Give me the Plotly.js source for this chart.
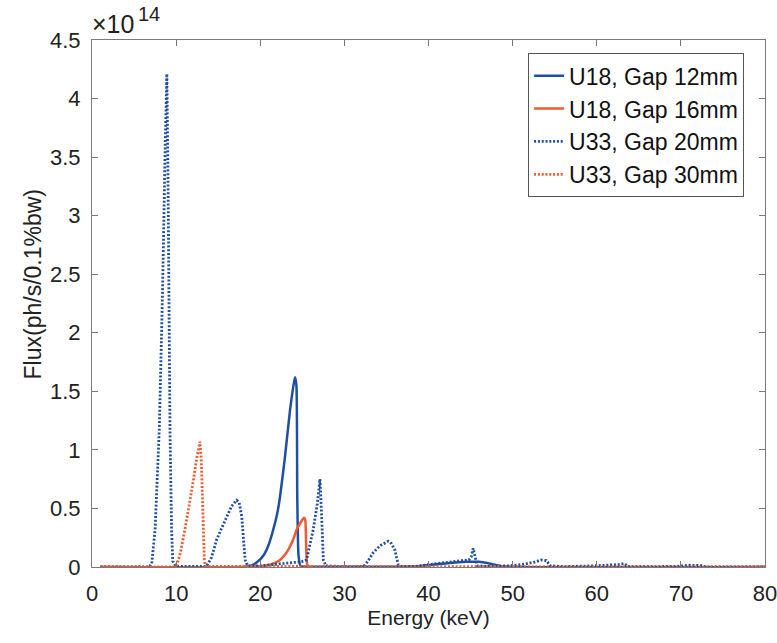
<!DOCTYPE html>
<html>
<head>
<meta charset="utf-8">
<script src="https://cdn.plot.ly/plotly-3.0.1.min.js"></script>
<style>html,body{margin:0;padding:0;background:#fff;}#chart{width:777px;height:643px;}</style>
</head>
<body>
<div id="chart"></div>
<script>
// Flux values are in units of 1e14 ph/s/0.1%bw
const seriesNames = ["U18, Gap 12mm", "U18, Gap 16mm", "U33, Gap 20mm", "U33, Gap 30mm"];

const energyU18g12 = [1, 17.5, 18.8, 19.6, 20.4, 21.0, 21.55, 22.0, 22.35, 22.94, 23.54, 23.9, 24.13, 24.3, 24.4, 24.55, 24.8, 27, 32, 38.5, 40.5, 42.5, 44.5, 46, 47, 48, 49, 80];
const fluxU18g12   = [0, 0, 0.01, 0.04, 0.1, 0.19, 0.32, 0.45, 0.6, 0.94, 1.34, 1.53, 1.62, 1.55, 0.6, 0.1, 0.01, 0.003, 0.002, 0.005, 0.02, 0.035, 0.044, 0.045, 0.035, 0.018, 0.004, 0];

const energyU18g16 = [1, 19, 20.5, 21.2, 22.35, 23.0, 23.5, 24.0, 24.33, 24.8, 25.2, 25.35, 25.5, 25.7, 80];
const fluxU18g16   = [0, 0, 0.01, 0.02, 0.06, 0.11, 0.17, 0.25, 0.32, 0.38, 0.42, 0.4, 0.1, 0.005, 0];

const energyU33g20 = [1, 6.8, 7.1, 7.5, 8.0, 8.4, 8.7, 8.9, 9.05, 9.27, 9.46, 9.6, 10, 12, 13.6, 14.2, 14.8, 15.4, 16.0, 16.6, 17.2, 17.5, 17.8, 18.0, 18.2, 18.5, 20, 22, 24, 24.9, 25.5, 26.3, 26.8, 27.1, 27.3, 27.5, 27.8, 30, 32.3, 32.8, 33.4, 34.2, 35.2, 35.6, 36.0, 36.4, 36.8, 38.5, 40, 42, 44, 44.8, 45.1, 45.3, 45.5, 45.8, 47, 49.5, 51, 52.5, 53.4, 54.0, 54.5, 56, 59.5, 61, 62.5, 63.3, 63.7, 64.2, 69.5, 71, 72.5, 73, 80];
const fluxU33g20   = [0, 0, 0.03, 0.32, 1.18, 2.4, 3.6, 4.21, 3.2, 1.18, 0.32, 0.05, 0.005, 0.003, 0.005, 0.08, 0.23, 0.33, 0.43, 0.52, 0.57, 0.55, 0.43, 0.25, 0.06, 0.01, 0.01, 0.025, 0.04, 0.045, 0.06, 0.32, 0.55, 0.75, 0.43, 0.06, 0.01, 0.003, 0.005, 0.05, 0.12, 0.18, 0.22, 0.2, 0.145, 0.02, 0.005, 0.005, 0.02, 0.04, 0.055, 0.06, 0.09, 0.16, 0.1, 0.01, 0.005, 0.01, 0.02, 0.04, 0.06, 0.055, 0.01, 0.003, 0.01, 0.015, 0.02, 0.03, 0.005, 0.002, 0.005, 0.015, 0.012, 0, 0];

const energyU33g30 = [1, 9.8, 10.1, 10.5, 11.05, 11.5, 12.05, 12.5, 12.84, 13.0, 13.15, 13.35, 13.5, 80];
const fluxU33g30   = [0, 0, 0.02, 0.12, 0.32, 0.5, 0.74, 0.95, 1.07, 0.9, 0.6, 0.06, 0.005, 0];

const xTicks = [0, 10, 20, 30, 40, 50, 60, 70, 80];
const yTicks = [0, 0.5, 1, 1.5, 2, 2.5, 3, 3.5, 4, 4.5];
const yTickText = ["0", "0.5", "1", "1.5", "2", "2.5", "3", "3.5", "4", "4.5"];

const BLUE = "#1f4fa3";
const RED = "#ee5b30";
const DOT = "2px,1.8px";

const traces = [
  {x: energyU18g12, y: fluxU18g12, name: seriesNames[0], mode: "lines", line: {color: BLUE, width: 2.5, shape: "spline", smoothing: 0.5}},
  {x: energyU18g16, y: fluxU18g16, name: seriesNames[1], mode: "lines", line: {color: RED, width: 2.5, shape: "spline", smoothing: 0.5}},
  {x: energyU33g20, y: fluxU33g20, name: seriesNames[2], mode: "lines", line: {color: BLUE, width: 2.8, dash: DOT}},
  {x: energyU33g30, y: fluxU33g30, name: seriesNames[3], mode: "lines", line: {color: RED, width: 2.8, dash: DOT}}
];

const axisColor = "#7a7a7a";
const FONT = "Liberation Sans, Arial, sans-serif";

const layout = {
  width: 777, height: 643,
  margin: {l: 92, r: 12, t: 40, b: 76},
  paper_bgcolor: "#fff", plot_bgcolor: "#fff",
  font: {family: FONT, color: "#222"},
  showlegend: true,
  legend: {
    x: 0.648, y: 0.975, xanchor: "left", yanchor: "top",
    bgcolor: "#fff", bordercolor: "#555", borderwidth: 1,
    font: {family: FONT, size: 23, color: "#111"},
    tracegroupgap: 0, itemwidth: 30
  },
  xaxis: {
    range: [0, 80], tickvals: xTicks, ticks: "inside", ticklen: 6, tickcolor: axisColor,
    showline: true, linecolor: axisColor, linewidth: 1, mirror: "ticks",
    showgrid: false, zeroline: false,
    tickfont: {family: FONT, size: 22, color: "#222"},
    ticklabelstandoff: 7, ticklabeloverflow: "allow",
    title: {text: "Energy (keV)", font: {family: FONT, size: 21, color: "#222"}, standoff: 2}
  },
  yaxis: {
    range: [0, 4.5], tickvals: yTicks, ticktext: yTickText, ticks: "inside", ticklen: 6, tickcolor: axisColor,
    showline: true, linecolor: axisColor, linewidth: 1, mirror: "ticks",
    showgrid: false, zeroline: false,
    tickfont: {family: FONT, size: 22, color: "#222"},
    ticklabelstandoff: 6, ticklabeloverflow: "allow",
    title: {text: ""}
  },
  annotations: [
    {
      xref: "paper", yref: "paper", x: 0, y: 1, xanchor: "left", yanchor: "bottom",
      yshift: 0, xshift: -2,
      text: "×10", showarrow: false,
      font: {family: FONT, size: 25, color: "#222"}
    },
    {
      xref: "paper", yref: "paper", x: 0.066, y: 1, xanchor: "left", yanchor: "bottom",
      yshift: 13, xshift: 0,
      text: "14", showarrow: false,
      font: {family: FONT, size: 20, color: "#222"}
    },
    {
      xref: "paper", yref: "paper", x: -0.087, y: 0.537, xanchor: "center", yanchor: "middle",
      textangle: -90, text: "Flux(ph/s/0.1%bw)", showarrow: false,
      font: {family: FONT, size: 23, color: "#222"}
    }
  ]
};

Plotly.newPlot("chart", traces, layout, {displayModeBar: false, staticPlot: true});
</script>
</body>
</html>
